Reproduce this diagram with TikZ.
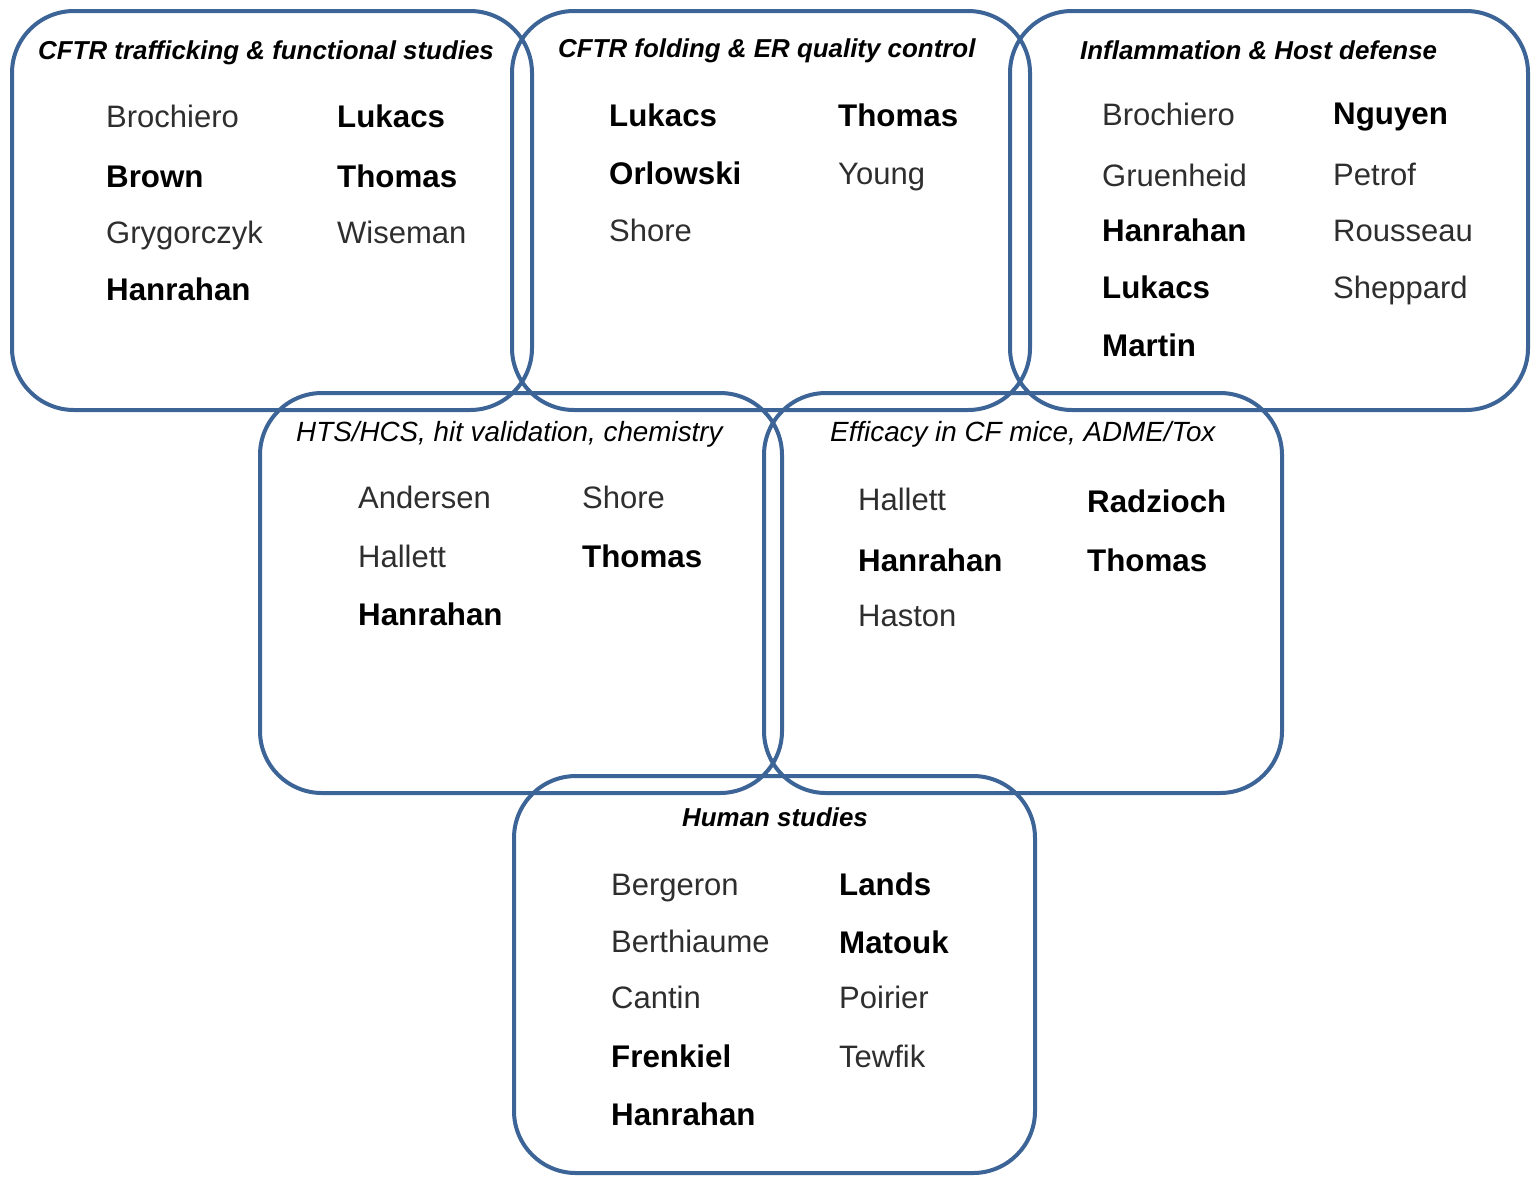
\documentclass[tikz,border=0pt]{standalone}
\usepackage{fontspec}
\setmainfont{Liberation Sans}
\definecolor{boxblue}{HTML}{3C6496}
\definecolor{lightname}{HTML}{2E2E2E}
\begin{document}
\begin{tikzpicture}[x=1pt,y=-1pt,
  box/.style={draw=boxblue, line width=4pt, rounded corners=62pt, rectangle, inner sep=0pt},
  ttl/.style={anchor=base west, inner sep=0pt, font=\fontsize{25.9}{29}\selectfont\bfseries\itshape},
  nttl/.style={anchor=base west, inner sep=0pt, font=\fontsize{27.8}{31}\selectfont\itshape},
  nm/.style={anchor=base west, inner sep=0pt, text=lightname, font=\fontsize{31}{36}\selectfont},
  bn/.style={anchor=base west, inner sep=0pt, text=black, font=\fontsize{31.3}{36}\selectfont\bfseries}]
\useasboundingbox (0,0) rectangle (1538,1176);
% boxes
\node[box, minimum width=520pt, minimum height=399pt] (b1) at (272,210.5) {};
\node[box, minimum width=518pt, minimum height=399pt] (b2) at (771,210.5) {};
\node[box, minimum width=518pt, minimum height=399pt] (b3) at (1269,210.5) {};
\node[box, minimum width=522pt, minimum height=400pt] (b4) at (521,593) {};
\node[box, minimum width=518pt, minimum height=400pt] (b5) at (1023,593) {};
\node[box, minimum width=521pt, minimum height=397pt] (b6) at (774.5,974.5) {};
% box 1
\node[ttl] (t1) at (38,59) {CFTR trafficking \& functional studies};
\node[nm] (n11) at (106,127) {Brochiero};
\node[bn] (n12) at (106,187) {Brown};
\node[nm] (n13) at (106,243) {Grygorczyk};
\node[bn] (n14) at (106,300) {Hanrahan};
\node[bn] (n15) at (337,127) {Lukacs};
\node[bn] (n16) at (337,187) {Thomas};
\node[nm] (n17) at (337,243) {Wiseman};
% box 2
\node[ttl] (t2) at (558,57) {CFTR folding \& ER quality control};
\node[bn] (n21) at (609,126) {Lukacs};
\node[bn] (n22) at (609,184) {Orlowski};
\node[nm] (n23) at (609,241) {Shore};
\node[bn] (n24) at (838,126) {Thomas};
\node[nm] (n25) at (838,184) {Young};
% box 3
\node[ttl] (t3) at (1080,59) {Inflammation \& Host defense};
\node[nm] (n31) at (1102,125) {Brochiero};
\node[nm] (n32) at (1102,186) {Gruenheid};
\node[bn] (n33) at (1102,241) {Hanrahan};
\node[bn] (n34) at (1102,298) {Lukacs};
\node[bn] (n35) at (1102,356) {Martin};
\node[bn] (n36) at (1333,124) {Nguyen};
\node[nm] (n37) at (1333,185) {Petrof};
\node[nm] (n38) at (1333,241) {Rousseau};
\node[nm] (n39) at (1333,298) {Sheppard};
% box 4
\node[nttl] (t4) at (296,441) {HTS/HCS, hit validation, chemistry};
\node[nm] (n41) at (358,508) {Andersen};
\node[nm] (n42) at (358,567) {Hallett};
\node[bn] (n43) at (358,625) {Hanrahan};
\node[nm] (n44) at (582,508) {Shore};
\node[bn] (n45) at (582,567) {Thomas};
% box 5
\node[nttl] (t5) at (830,441) {Efficacy in CF mice, ADME/Tox};
\node[nm] (n51) at (858,510) {Hallett};
\node[bn] (n52) at (858,571) {Hanrahan};
\node[nm] (n53) at (858,626) {Haston};
\node[bn] (n54) at (1087,512) {Radzioch};
\node[bn] (n55) at (1087,571) {Thomas};
% box 6
\node[ttl] (t6) at (682,826) {Human studies};
\node[nm] (n61) at (611,895) {Bergeron};
\node[nm] (n62) at (611,952) {Berthiaume};
\node[nm] (n63) at (611,1008) {Cantin};
\node[bn] (n64) at (611,1067) {Frenkiel};
\node[bn] (n65) at (611,1125) {Hanrahan};
\node[bn] (n66) at (839,895) {Lands};
\node[bn] (n67) at (839,953) {Matouk};
\node[nm] (n68) at (839,1008) {Poirier};
\node[nm] (n69) at (839,1067) {Tewfik};
\end{tikzpicture}
\end{document}
